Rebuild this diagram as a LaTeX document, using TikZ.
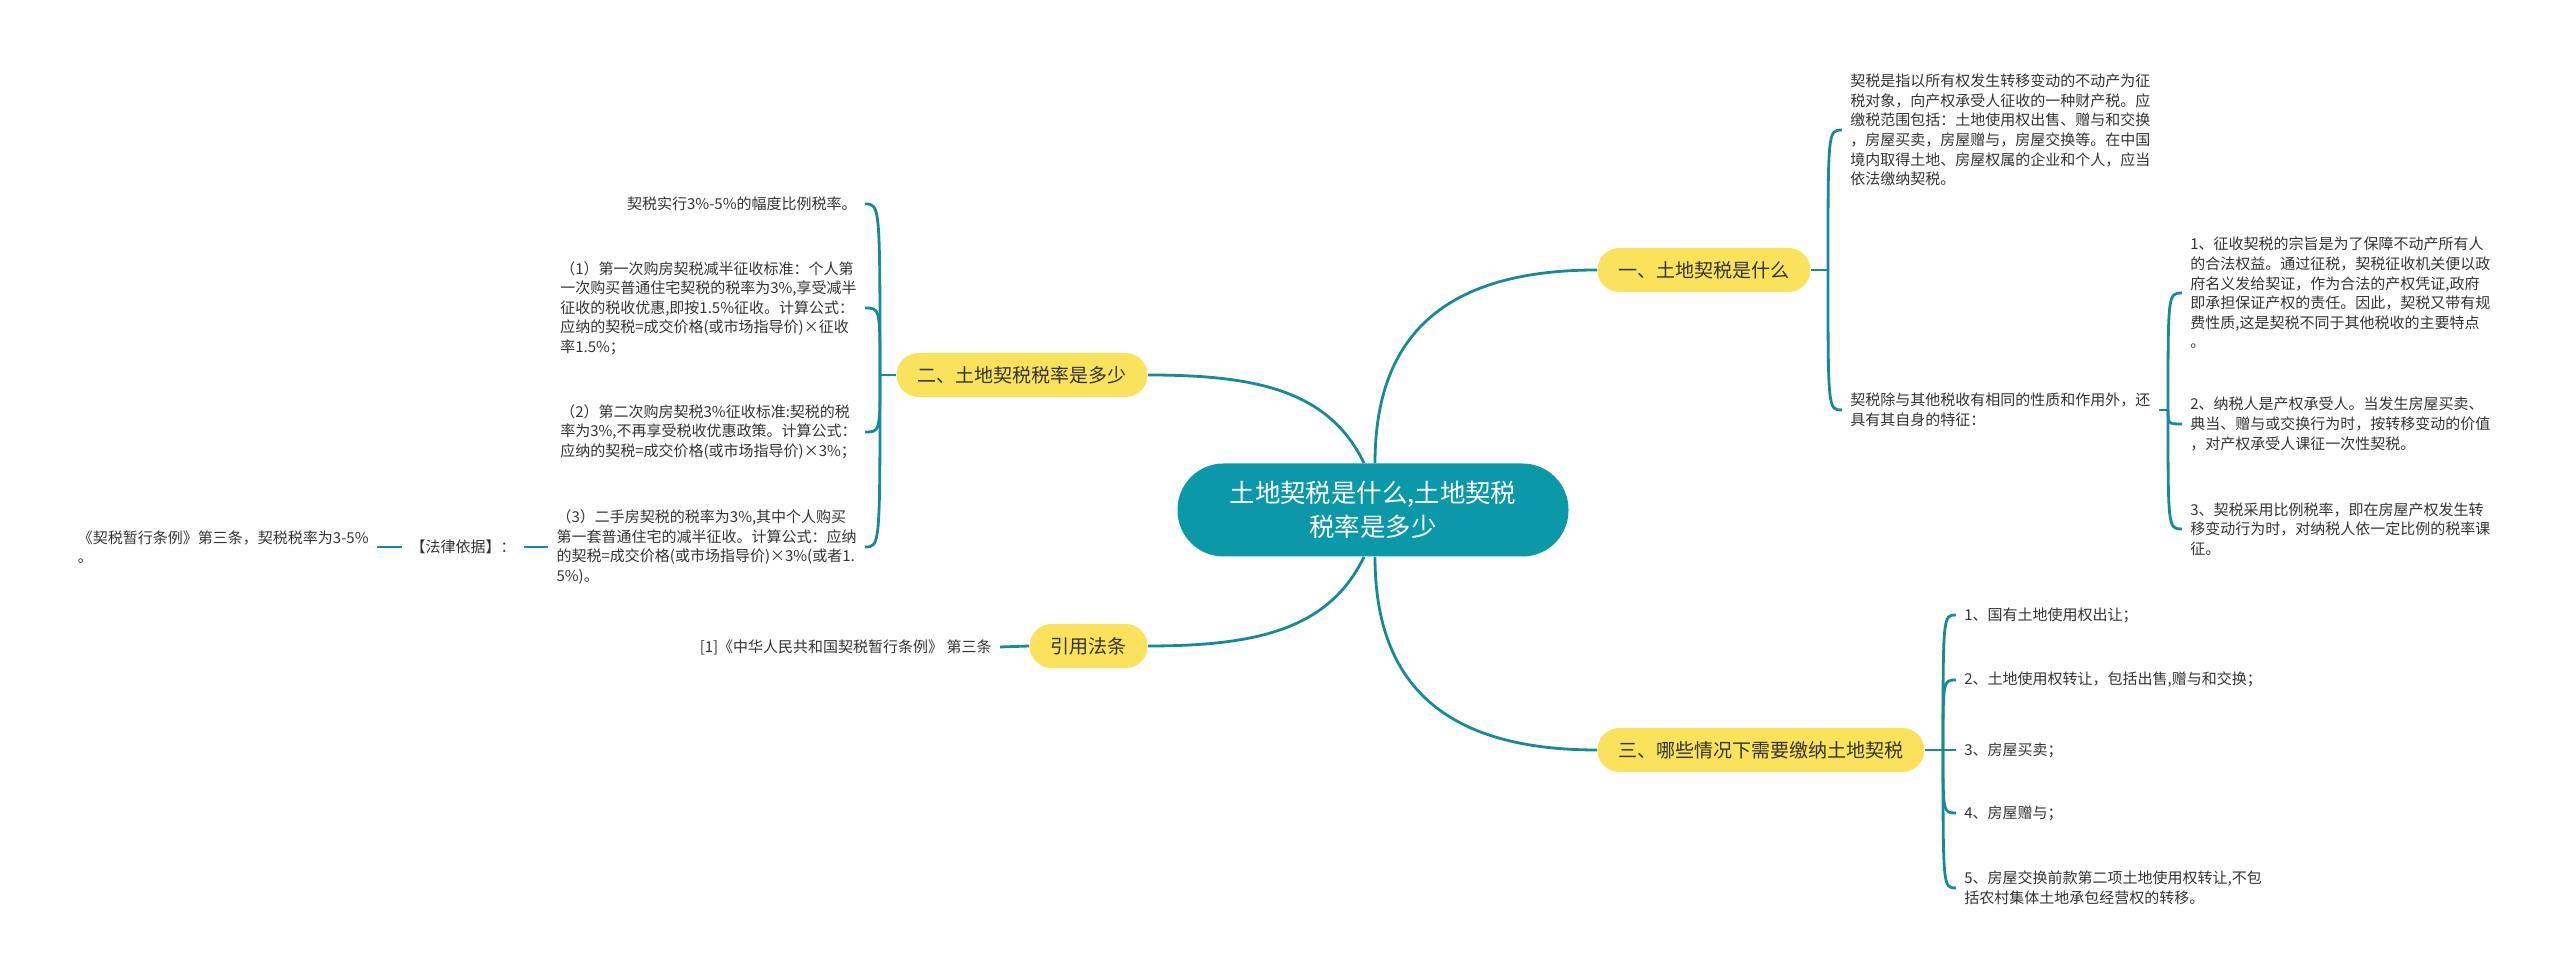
\documentclass[tikz,border=0pt]{standalone}
\usepackage{fontspec}
\setmainfont{Noto Sans CJK SC}

\definecolor{rootteal}{RGB}{11,152,168}
\definecolor{linkteal}{RGB}{22,138,153}
\definecolor{topicyellow}{RGB}{250,226,92}
\definecolor{leafgray}{RGB}{51,51,51}

\tikzset{
  rootnode/.style={fill=rootteal, text=white, rounded corners=23pt, minimum width=195.5pt,
      minimum height=46.5pt, align=center, font=\fontsize{12.7}{17}\selectfont},
  topicnode/.style={fill=topicyellow, text=leafgray, rounded corners=11pt, minimum height=22pt,
      inner xsep=10.5pt, inner ysep=0pt, font=\fontsize{9.5}{11}\selectfont},
  leafnode/.style={text=leafgray, align=left, inner xsep=4pt, inner ysep=1pt,
      font=\fontsize{7.5}{9.8}\selectfont},
  link/.style={draw=linkteal, line width=1.4pt}
}

\begin{document}
\begin{tikzpicture}[x=0.5pt, y=0.5pt]
        \useasboundingbox (0,0) rectangle (2560,979);

        % Central node
        \node[rootnode] (central) at (1373,469) {土地契税是什么,土地契税\\税率是多少};

        % Main topics
        \node[topicnode, anchor=west] (topicA) at (1597,709) {一、土地契税是什么};
        \node[topicnode, anchor=east] (topicB) at (1148,604) {二、土地契税税率是多少};
        \node[topicnode, anchor=east] (topicC) at (1148,333) {引用法条};
        \node[topicnode, anchor=west] (topicD) at (1597,229) {三、哪些情况下需要缴纳土地契税};

        % Curves from the central node to the topics
        \draw[link] ([xshift=1pt]central.north) .. controls +(0,130) and +(-150,0) .. (topicA.west);
        \draw[link] ([xshift=-4.5pt]central.north) .. controls +(-35,72) and +(110,0) .. (topicB.east);
        \draw[link] ([xshift=-4.5pt]central.south) .. controls +(-35,-72) and +(110,0) .. (topicC.east);
        \draw[link] ([xshift=1pt]central.south) .. controls +(0,-130) and +(-150,0) .. (topicD.west);

        % Topic A: what it is
        \coordinate (jA) at (1828,709);
        \node[leafnode, anchor=west] (A1) at (1842,849) {契税是指以所有权发生转移变动的不动产为征\\税对象，向产权承受人征收的一种财产税。应\\缴税范围包括：土地使用权出售、赠与和交换\\，房屋买卖，房屋赠与，房屋交换等。在中国\\境内取得土地、房屋权属的企业和个人，应当\\依法缴纳契税。};
        \node[leafnode, anchor=west] (A2) at (1842,569) {契税除与其他税收有相同的性质和作用外，还\\具有其自身的特征：};

        \coordinate (jA2) at (2168,569);
        \node[leafnode, anchor=west] (A21) at (2182,686) {1、征收契税的宗旨是为了保障不动产所有人\\的合法权益。通过征税，契税征收机关便以政\\府名义发给契证，作为合法的产权凭证,政府\\即承担保证产权的责任。因此，契税又带有规\\费性质,这是契税不同于其他税收的主要特点\\。};
        \node[leafnode, anchor=west] (A22) at (2182,555) {2、纳税人是产权承受人。当发生房屋买卖、\\典当、赠与或交换行为时，按转移变动的价值\\，对产权承受人课征一次性契税。};
        \node[leafnode, anchor=west] (A23) at (2182,450) {3、契税采用比例税率，即在房屋产权发生转\\移变动行为时，对纳税人依一定比例的税率课\\征。};

        % Topic B: tax rate
        \coordinate (jB) at (880,604);
        \node[leafnode, anchor=east] (B1) at (865,775) {契税实行3\%-5\%的幅度比例税率。};
        \node[leafnode, anchor=east] (B2) at (865,671) {（1）第一次购房契税减半征收标准：个人第\\一次购买普通住宅契税的税率为3\%,享受减半\\征收的税收优惠,即按1.5\%征收。计算公式：\\应纳的契税=成交价格(或市场指导价)×征收\\率1.5\%；};
        \node[leafnode, anchor=east] (B3) at (865,547) {（2）第二次购房契税3\%征收标准:契税的税\\率为3\%,不再享受税收优惠政策。计算公式：\\应纳的契税=成交价格(或市场指导价)×3\%；};
        \node[leafnode, anchor=east] (B4) at (865,432) {（3）二手房契税的税率为3\%,其中个人购买\\第一套普通住宅的减半征收。计算公式：应纳\\的契税=成交价格(或市场指导价)×3\%(或者1.\\5\%)。};
        \node[leafnode, anchor=east] (law) at (524,432) {【法律依据】：};
        \node[leafnode, anchor=east] (lawText) at (377,432) {《契税暂行条例》第三条，契税税率为3-5\%\\。};

        % Topic C: cited law
        \node[leafnode, anchor=east] (C1) at (1000,332) {[1]《中华人民共和国契税暂行条例》 第三条};

        % Topic D: when it is paid
        \coordinate (jD) at (1943,229);
        \node[leafnode, anchor=west] (D1) at (1956,364) {1、国有土地使用权出让；};
        \node[leafnode, anchor=west] (D2) at (1956,299) {2、土地使用权转让，包括出售,赠与和交换；};
        \node[leafnode, anchor=west] (D3) at (1956,229) {3、房屋买卖；};
        \node[leafnode, anchor=west] (D4) at (1956,166) {4、房屋赠与；};
        \node[leafnode, anchor=west] (D5) at (1956,91) {5、房屋交换前款第二项土地使用权转让,不包\\括农村集体土地承包经营权的转移。};

        % Brackets from each topic to its leaves
        \draw[link] (topicA.east) -- (jA);
        \foreach \leaf in {A1,A2}{
            \draw[link] (jA) .. controls (jA |- \leaf.west) .. (\leaf.west);
          }
        \draw[link] (A2.east) -- (jA2);
        \foreach \leaf in {A21,A22,A23}{
            \draw[link] (jA2) .. controls (jA2 |- \leaf.west) .. (\leaf.west);
          }
        \draw[link] (topicB.west) -- (jB);
        \foreach \leaf in {B1,B2,B3,B4}{
            \draw[link] (jB) .. controls (jB |- \leaf.east) .. (\leaf.east);
          }
        \draw[link] (B4.west) -- (law.east);
        \draw[link] (law.west) -- (lawText.east);
        \draw[link] (topicC.west) -- (C1.east);
        \draw[link] (topicD.east) -- (jD);
        \foreach \leaf in {D1,D2,D3,D4,D5}{
            \draw[link] (jD) .. controls (jD |- \leaf.west) .. (\leaf.west);
          }
      \end{tikzpicture}
\end{document}
